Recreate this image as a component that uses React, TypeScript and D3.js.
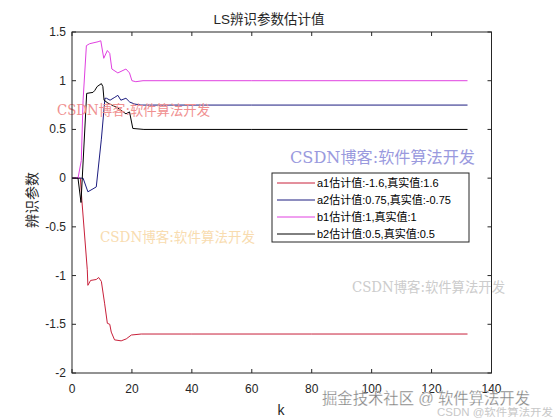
import React from "react";
import * as d3 from "d3";

// ---- data ----
const xTicks = [0, 20, 40, 60, 80, 100, 120, 140];
const yTicks = [-2, -1.5, -1, -0.5, 0, 0.5, 1, 1.5];

const a1K = [0, 1, 2, 2.8, 3.3, 5.1, 5.3, 6.2, 8.1, 8.9, 9.8, 10.9, 11.8, 12.6, 13.1, 14.2, 16.4, 18.1, 19.8, 23.1, 40, 80, 132];
const a1V = [0, 0, 0, 0, -0.23, -0.94, -1.1, -1.05, -1.04, -1.02, -1.06, -1.29, -1.49, -1.5, -1.58, -1.66, -1.67, -1.65, -1.61, -1.6, -1.6, -1.6, -1.6];

const a2K = [0, 2, 3.7, 5.3, 7, 8.1, 9.8, 11, 11.5, 12.7, 14.3, 15.3, 16.3, 18, 19.3, 21, 23, 60, 132];
const a2V = [0, 0, 0, -0.14, -0.11, -0.09, 0.4, 0.82, 0.82, 0.8, 0.83, 0.85, 0.8, 0.82, 0.78, 0.76, 0.75, 0.75, 0.75];

const b1K = [0, 1, 2, 3.1, 3.7, 4.8, 5.9, 8.7, 9.6, 10.6, 11.8, 12.6, 13.3, 15.3, 18, 19.2, 20, 21.3, 23.7, 60, 132];
const b1V = [0, 0, 0, 0.18, 0.8, 1.36, 1.38, 1.4, 1.41, 1.23, 1.31, 1.28, 1.12, 1.08, 1.12, 1.08, 1.0, 0.99, 1.0, 1.0, 1.0];

const b2K = [0, 2, 3, 4.9, 7, 7.6, 8.4, 9.8, 10.3, 10.7, 12, 15.3, 18, 19.2, 20.3, 24, 60, 132];
const b2V = [0, 0, -0.25, 0.87, 0.88, 0.9, 0.94, 0.97, 0.94, 0.8, 0.77, 0.72, 0.66, 0.68, 0.51, 0.5, 0.5, 0.5];

const seriesNames = ["a1估计值:-1.6,真实值:1.6", "a2估计值:0.75,真实值:-0.75", "b1估计值:1,真实值:1", "b2估计值:0.5,真实值:0.5"];
const seriesColors = ["#c8203a", "#1c1c80", "#e040e0", "#000000"];

const title = "LS辨识参数估计值";
const xLabel = "k";
const yLabel = "辨识参数";

const wmText = "CSDN博客:软件算法开发";

export default function App() {
  const W = 560, H = 420;
  const L = 72, R = 491.5, T = 32, B = 373;
  const x = d3.scaleLinear().domain([0, 140]).range([L, R]);
  const y = d3.scaleLinear().domain([-2, 1.5]).range([B, T]);
  const line = d3.line<[number, number]>().x(d => x(d[0])).y(d => y(d[1]));
  const series = [
    a1K.map((k, i) => [k, a1V[i]] as [number, number]),
    a2K.map((k, i) => [k, a2V[i]] as [number, number]),
    b1K.map((k, i) => [k, b1V[i]] as [number, number]),
    b2K.map((k, i) => [k, b2V[i]] as [number, number]),
  ];
  const axisFont = "'Liberation Sans', Arial, sans-serif";
  const serifFont = "'DejaVu Serif', 'Liberation Serif', 'Noto Sans CJK SC', serif";
  const cjkSans = "'Liberation Sans', Arial, 'Noto Sans CJK SC', sans-serif";
  const tickLen = 4;
  const legX = 272, legY = 173, legW = 197, legH = 69;
  return (
    <svg width={W} height={H} style={{ position: "fixed", left: 0, top: 0, background: "#fff" }}>
      <rect x={0} y={0} width={W} height={H} fill="#fff" />
      {/* series */}
      {series.map((s, i) => (
        <path key={i} d={line(s) || ""} fill="none" stroke={seriesColors[i]} strokeWidth={1} />
      ))}
      {/* watermarks */}
      <text x={57} y={115} fontFamily={serifFont} fontSize={14} fill="#f09090" textLength={153} lengthAdjust="spacingAndGlyphs">{wmText}</text>
      <text x={290} y={163} fontFamily={serifFont} fontSize={16} fill="#9a9ade" textLength={185} lengthAdjust="spacingAndGlyphs">{wmText}</text>
      <text x={100} y={242} fontFamily={serifFont} fontSize={14} fill="#f8dcb0" textLength={155} lengthAdjust="spacingAndGlyphs">{wmText}</text>
      <text x={352} y={292} fontFamily={serifFont} fontSize={14} fill="#cccccc" textLength={153} lengthAdjust="spacingAndGlyphs">{wmText}</text>
      {/* axes box */}
      <rect x={L} y={T} width={R - L} height={B - T} fill="none" stroke="#262626" strokeWidth={1} />
      {xTicks.map(t => (
        <g key={"x" + t}>
          <line x1={x(t)} x2={x(t)} y1={B} y2={B - tickLen} stroke="#262626" />
          <line x1={x(t)} x2={x(t)} y1={T} y2={T + tickLen} stroke="#262626" />
          <text x={x(t)} y={393} textAnchor="middle" fontFamily={axisFont} fontSize={12} fill="#262626">{t}</text>
        </g>
      ))}
      {yTicks.map(t => (
        <g key={"y" + t}>
          <line x1={L} x2={L + tickLen} y1={y(t)} y2={y(t)} stroke="#262626" />
          <line x1={R} x2={R - tickLen} y1={y(t)} y2={y(t)} stroke="#262626" />
          <text x={L - 6} y={y(t) + 4} textAnchor="end" fontFamily={axisFont} fontSize={12} fill="#262626">{t}</text>
        </g>
      ))}
      <text x={269} y={24} textAnchor="middle" fontFamily={cjkSans} fontSize={13.5} fill="#262626">{title}</text>
      <text x={281} y={415} textAnchor="middle" fontFamily={axisFont} fontSize={14} fill="#262626">{xLabel}</text>
      <text transform={`translate(37,200) rotate(-90)`} textAnchor="middle" fontFamily={serifFont} fontSize={14} fill="#262626">{yLabel}</text>
      {/* legend */}
      <rect x={legX} y={legY} width={legW} height={legH} fill="#fff" stroke="#262626" strokeWidth={1} />
      {seriesNames.map((n, i) => {
        const yy = legY + 10 + i * 17;
        return (
          <g key={n}>
            <line x1={legX + 5} x2={legX + 43} y1={yy} y2={yy} stroke={seriesColors[i]} strokeWidth={1} />
            <text x={legX + 45} y={yy + 4} fontFamily={cjkSans} fontSize={11} fill="#000">{n}</text>
          </g>
        );
      })}
      {/* bottom watermark */}
      <text x={322} y={404} fontFamily={cjkSans} fontSize={16} fill="#7a7a7a" stroke="#fff" strokeWidth={0.3} textLength={208} lengthAdjust="spacingAndGlyphs">掘金技术社区 @ 软件算法开发</text>
      <text x={437} y={416} fontFamily={cjkSans} fontSize={10} fill="#c8c8c8" textLength={116} lengthAdjust="spacingAndGlyphs">CSDN @软件算法开发</text>
    </svg>
  );
}
